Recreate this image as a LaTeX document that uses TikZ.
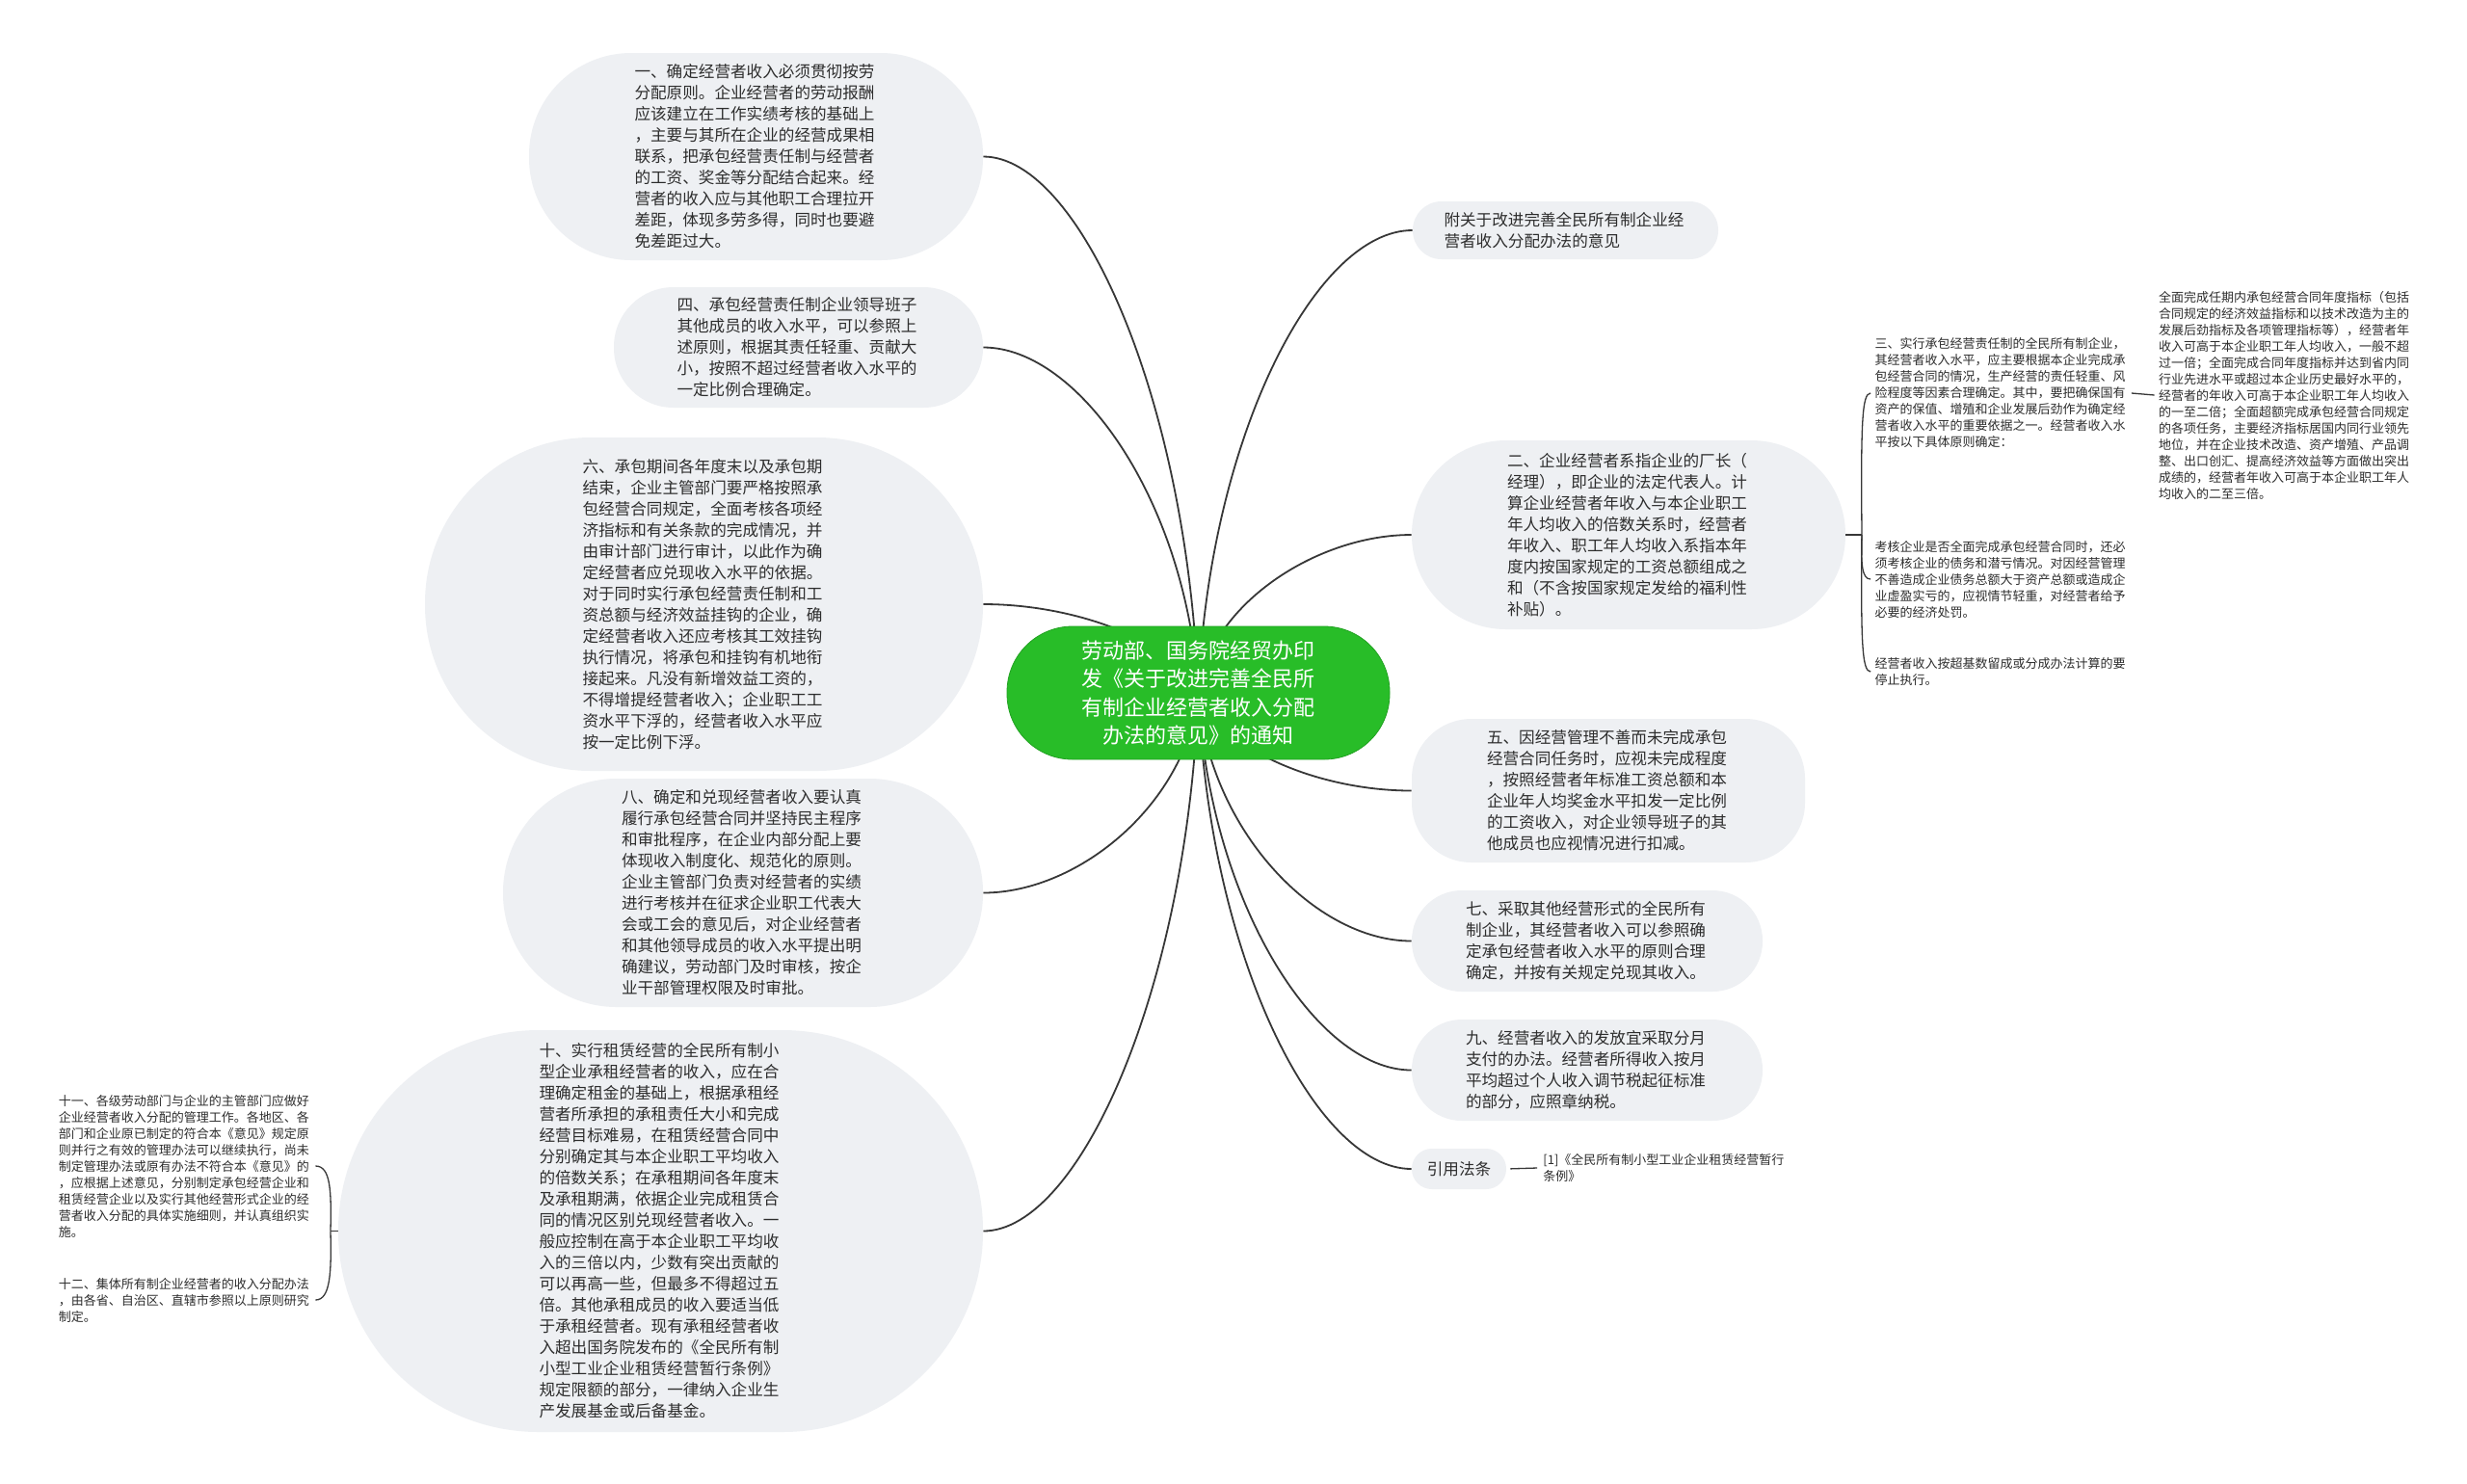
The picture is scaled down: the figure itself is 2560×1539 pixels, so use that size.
\documentclass[tikz,border=0pt]{standalone}
\usepackage{fontspec}
\newfontfamily\cjk{Noto Sans CJK SC}
\usetikzlibrary{backgrounds}
\definecolor{bubble}{RGB}{238,240,243}
\definecolor{leaf}{RGB}{45,45,45}
\definecolor{rootgreen}{RGB}{40,189,40}
\definecolor{wire}{RGB}{55,55,55}

\begin{document}
\begin{tikzpicture}
	[x=0.5pt,y=-0.5pt%
	,every node/.style={text=leaf,%
		inner sep=0pt}%
	,topic/.style={fill=bubble,%
		rounded corners=#1,%
		align=left,%
		text width=126pt,%
		font=\cjk\fontsize{8.3}{11}\selectfont}%
	,note/.style={align=left,%
		text width=131pt,%
		inner xsep=2pt,%
		font=\cjk\fontsize{6.5}{8.5}\selectfont}%
	,link/.style={draw=wire,%
		line width=0.9pt}%
	,twig/.style={draw=wire,%
		line width=0.65pt}]
	\useasboundingbox (0,0) rectangle (2560,1539);

	% root
	\node[fill=rootgreen, draw=rootgreen!85!black, line width=0.4pt, text=white,
		rounded corners=34pt, minimum width=198.5pt, minimum height=69pt,
		align=center, font=\cjk\fontsize{11}{14.75}\selectfont] (root) at (1243.5,719)
		{劳动部、国务院经贸办印\\发《关于改进完善全民所\\有制企业经营者收入分配\\办法的意见》的通知};

	% left branch
	\node[topic=53pt, minimum width=235.5pt, minimum height=107.5pt] (one) at (784.5,162.5)
		{一、确定经营者收入必须贯彻按劳\\
		分配原则。企业经营者的劳动报酬\\
		应该建立在工作实绩考核的基础上\\
		，主要与其所在企业的经营成果相\\
		联系，把承包经营责任制与经营者\\
		的工资、奖金等分配结合起来。经\\
		营者的收入应与其他职工合理拉开\\
		差距，体现多劳多得，同时也要避\\
		免差距过大。};
	\node[topic=31pt, minimum width=191.5pt, minimum height=62.5pt] (four) at (828.5,360.5)
		{四、承包经营责任制企业领导班子\\
		其他成员的收入水平，可以参照上\\
		述原则，根据其责任轻重、贡献大\\
		小，按照不超过经营者收入水平的\\
		一定比例合理确定。};
	\node[topic=86pt, minimum width=289.5pt, minimum height=173pt] (six) at (730.5,627)
		{六、承包期间各年度末以及承包期\\
		结束，企业主管部门要严格按照承\\
		包经营合同规定，全面考核各项经\\
		济指标和有关条款的完成情况，并\\
		由审计部门进行审计，以此作为确\\
		定经营者应兑现收入水平的依据。\\
		对于同时实行承包经营责任制和工\\
		资总额与经济效益挂钩的企业，确\\
		定经营者收入还应考核其工效挂钩\\
		执行情况，将承包和挂钩有机地衔\\
		接起来。凡没有新增效益工资的，\\
		不得增提经营者收入；企业职工工\\
		资水平下浮的，经营者收入水平应\\
		按一定比例下浮。};
	\node[topic=59pt, minimum width=249pt, minimum height=118.5pt] (eight) at (771,926.5)
		{八、确定和兑现经营者收入要认真\\
		履行承包经营合同并坚持民主程序\\
		和审批程序，在企业内部分配上要\\
		体现收入制度化、规范化的原则。\\
		企业主管部门负责对经营者的实绩\\
		进行考核并在征求企业职工代表大\\
		会或工会的意见后，对企业经营者\\
		和其他领导成员的收入水平提出明\\
		确建议，劳动部门及时审核，按企\\
		业干部管理权限及时审批。};
	\node[topic=104pt, minimum width=334.5pt, minimum height=208.5pt] (ten) at (685.5,1277.5)
		{十、实行租赁经营的全民所有制小\\
		型企业承租经营者的收入，应在合\\
		理确定租金的基础上，根据承租经\\
		营者所承担的承租责任大小和完成\\
		经营目标难易，在租赁经营合同中\\
		分别确定其与本企业职工平均收入\\
		的倍数关系；在承租期间各年度末\\
		及承租期满，依据企业完成租赁合\\
		同的情况区别兑现经营者收入。一\\
		般应控制在高于本企业职工平均收\\
		入的三倍以内，少数有突出贡献的\\
		可以再高一些，但最多不得超过五\\
		倍。其他承租成员的收入要适当低\\
		于承租经营者。现有承租经营者收\\
		入超出国务院发布的《全民所有制\\
		小型工业企业租赁经营暂行条例》\\
		规定限额的部分，一律纳入企业生\\
		产发展基金或后备基金。};
	\node[note] (eleven) at (192,1210)
		{十一、各级劳动部门与企业的主管部门应做好\\
		企业经营者收入分配的管理工作。各地区、各\\
		部门和企业原已制定的符合本《意见》规定原\\
		则并行之有效的管理办法可以继续执行，尚未\\
		制定管理办法或原有办法不符合本《意见》的\\
		，应根据上述意见，分别制定承包经营企业和\\
		租赁经营企业以及实行其他经营形式企业的经\\
		营者收入分配的具体实施细则，并认真组织实\\
		施。};
	\node[note] (twelve) at (192,1349)
		{十二、集体所有制企业经营者的收入分配办法\\
		，由各省、自治区、直辖市参照以上原则研究\\
		制定。};

	% right branch
	\node[topic=14.9pt, minimum width=158.5pt, minimum height=30pt] (annex) at (1624.5,239)
		{附关于改进完善全民所有制企业经\\
		营者收入分配办法的意见};
	\node[topic=48.9pt, minimum width=225pt, minimum height=98pt] (two) at (1690,555)
		{二、企业经营者系指企业的厂长（\\
		经理），即企业的法定代表人。计\\
		算企业经营者年收入与本企业职工\\
		年人均收入的倍数关系时，经营者\\
		年收入、职工年人均收入系指本年\\
		度内按国家规定的工资总额组成之\\
		和（不含按国家规定发给的福利性\\
		补贴）。};
	\node[note] (three) at (2076.5,408)
		{三、实行承包经营责任制的全民所有制企业，\\
		其经营者收入水平，应主要根据本企业完成承\\
		包经营合同的情况，生产经营的责任轻重、风\\
		险程度等因素合理确定。其中，要把确保国有\\
		资产的保值、增殖和企业发展后劲作为确定经\\
		营者收入水平的重要依据之一。经营者收入水\\
		平按以下具体原则确定：};
	\node[note] (full) at (2371,410)
		{全面完成任期内承包经营合同年度指标（包括\\
		合同规定的经济效益指标和以技术改造为主的\\
		发展后劲指标及各项管理指标等），经营者年\\
		收入可高于本企业职工年人均收入，一般不超\\
		过一倍；全面完成合同年度指标并达到省内同\\
		行业先进水平或超过本企业历史最好水平的，\\
		经营者的年收入可高于本企业职工年人均收入\\
		的一至二倍；全面超额完成承包经营合同规定\\
		的各项任务，主要经济指标居国内同行业领先\\
		地位，并在企业技术改造、资产增殖、产品调\\
		整、出口创汇、提高经济效益等方面做出突出\\
		成绩的，经营者年收入可高于本企业职工年人\\
		均收入的二至三倍。};
	\node[note] (check) at (2076.5,601)
		{考核企业是否全面完成承包经营合同时，还必\\
		须考核企业的债务和潜亏情况。对因经营管理\\
		不善造成企业债务总额大于资产总额或造成企\\
		业虚盈实亏的，应视情节轻重，对经营者给予\\
		必要的经济处罚。};
	\node[note] (halt) at (2076.5,697)
		{经营者收入按超基数留成或分成办法计算的要\\
		停止执行。};
	\node[topic=31pt, minimum width=204pt, minimum height=74.5pt] (five) at (1669,820.5)
		{五、因经营管理不善而未完成承包\\
		经营合同任务时，应视未完成程度\\
		，按照经营者年标准工资总额和本\\
		企业年人均奖金水平扣发一定比例\\
		的工资收入，对企业领导班子的其\\
		他成员也应视情况进行扣减。};
	\node[topic=26pt, minimum width=182pt, minimum height=52.5pt] (seven) at (1647,976.5)
		{七、采取其他经营形式的全民所有\\
		制企业，其经营者收入可以参照确\\
		定承包经营者收入水平的原则合理\\
		确定，并按有关规定兑现其收入。};
	\node[topic=26pt, minimum width=182pt, minimum height=52.5pt] (nine) at (1647,1110.5)
		{九、经营者收入的发放宜采取分月\\
		支付的办法。经营者所得收入按月\\
		平均超过个人收入调节税起征标准\\
		的部分，应照章纳税。};
	\node[topic=10.4pt, minimum width=49pt, minimum height=21pt, text width=34pt,
		align=center] (law) at (1514,1213) {引用法条};
	\node[note, anchor=west, inner xsep=3pt, text width=128pt] (cite) at (1595,1212)
		{[1]《全民所有制小型工业企业租赁经营暂行\\
		条例》};

	\coordinate (j2) at (1932,555);
	\coordinate (j10) at (343,1277.5);

	\begin{scope}[on background layer]
		\fill[white] (0,0) rectangle (2560,1539);
		% root to topics
		\draw[link] (root.center) .. controls (1232,413) and (1120,162.5) .. (one.east);
		\draw[link] (root.center) .. controls (1232,522) and (1120,360.5) .. (four.east);
		\draw[link] (root.center) .. controls (1222,668) and (1120,627) .. (six.east);
		\draw[link] (root.center) .. controls (1232,833) and (1120,926.5) .. (eight.east);
		\draw[link] (root.center) .. controls (1232,1026) and (1120,1277.5) .. (ten.east);
		\draw[link] (root.center) .. controls (1254,455) and (1365,239) .. (annex.west);
		\draw[link] (root.center) .. controls (1254,629) and (1365,555) .. (two.west);
		\draw[link] (root.center) .. controls (1264,775) and (1365,820.5) .. (five.west);
		\draw[link] (root.center) .. controls (1254,861) and (1365,976.5) .. (seven.west);
		\draw[link] (root.center) .. controls (1254,934) and (1365,1110.5) .. (nine.west);
		\draw[link] (root.center) .. controls (1254,991) and (1365,1213) .. (law.west);
	\end{scope}

	% leaves
	\draw[twig] (two.east) -- (j2);
	\draw[twig] (j2) .. controls (1931,440) and (1932,408) .. (three.west);
	\draw[twig] (j2) .. controls (1931,585) and (1932,601) .. (check.west);
	\draw[twig] (j2) .. controls (1931,665) and (1932,697) .. (halt.west);
	\draw[twig] (three.east) -- (full.west);
	\draw[twig] (ten.west) -- (j10);
	\draw[twig] (j10) .. controls (344,1235) and (343,1210) .. (eleven.east);
	\draw[twig] (j10) .. controls (344,1320) and (343,1349) .. (twelve.east);
	\draw[twig, shorten <=2pt] (law.east) -- (cite.west);
\end{tikzpicture}
\end{document}
